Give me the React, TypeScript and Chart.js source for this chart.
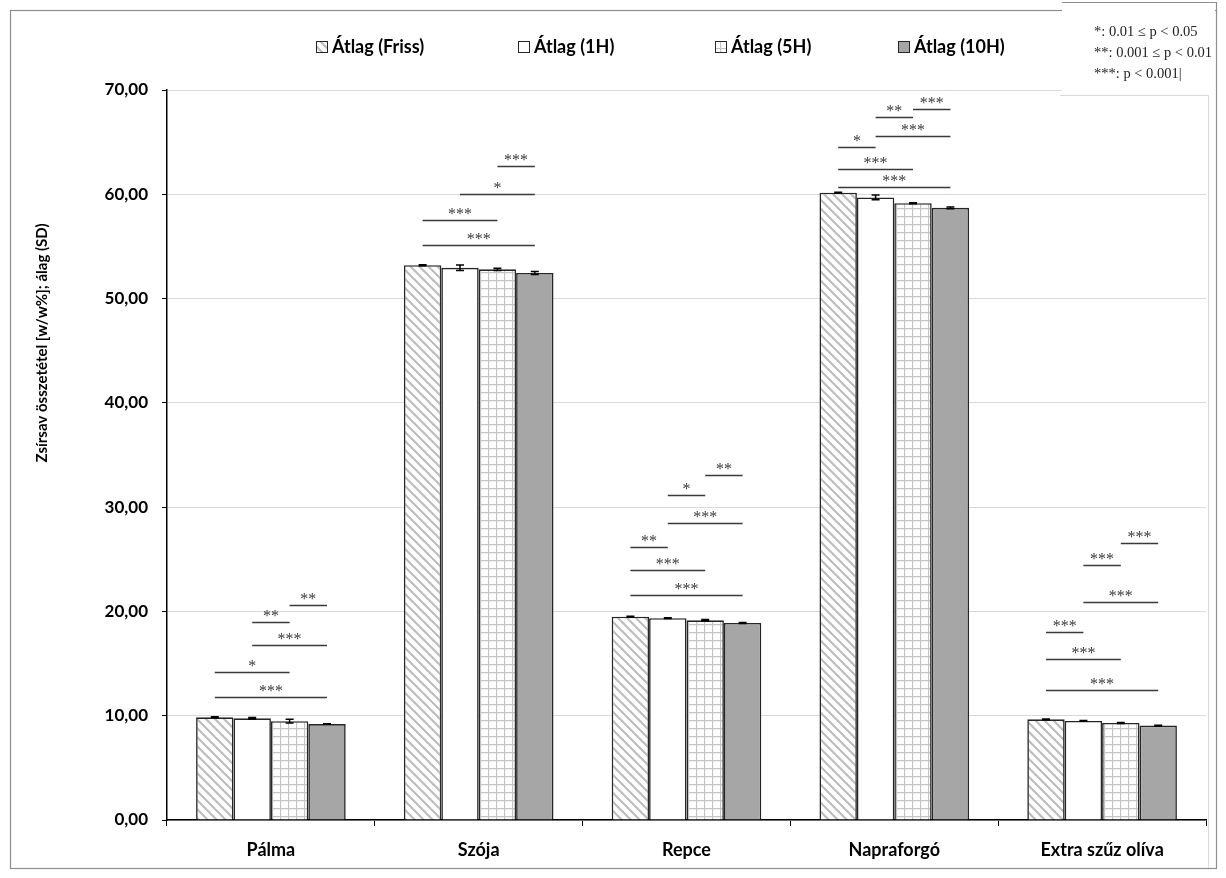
import React, { useEffect, useRef } from "react";
import { Chart, registerables } from "chart.js";

Chart.register(...registerables);

// ---------- data ----------
const categories = ["Pálma", "Szója", "Repce", "Napraforgó", "Extra szűz olíva"];
const seriesNames = ["Átlag (Friss)", "Átlag (1H)", "Átlag (5H)", "Átlag (10H)"];

const meanFriss = [9.85, 53.2, 19.5, 60.15, 9.65];
const mean1H = [9.75, 52.95, 19.35, 59.7, 9.5];
const mean5H = [9.47, 52.8, 19.15, 59.15, 9.3];
const mean10H = [9.2, 52.45, 18.9, 58.7, 9.05];

const sdFriss = [0.04, 0.05, 0.04, 0.05, 0.03];
const sd1H = [0.07, 0.27, 0.04, 0.22, 0.03];
const sd5H = [0.18, 0.1, 0.07, 0.05, 0.05];
const sd10H = [0.03, 0.15, 0.05, 0.08, 0.03];

const yTickValues = [0, 10, 20, 30, 40, 50, 60, 70];

// significance brackets: [category index, from series, to series, y value, label]
const sigPalma: [number, number, number, number, string][] = [
  [0, 0, 3, 11.75, "***"],
  [0, 0, 2, 14.15, "*"],
  [0, 1, 3, 16.8, "***"],
  [0, 1, 2, 18.95, "**"],
  [0, 2, 3, 20.6, "**"],
];
const sigSzoja: [number, number, number, number, string][] = [
  [1, 0, 3, 55.1, "***"],
  [1, 0, 2, 57.5, "***"],
  [1, 1, 3, 60.05, "*"],
  [1, 2, 3, 62.75, "***"],
];
const sigRepce: [number, number, number, number, string][] = [
  [2, 0, 3, 21.6, "***"],
  [2, 0, 2, 24.0, "***"],
  [2, 0, 1, 26.2, "**"],
  [2, 1, 3, 28.5, "***"],
  [2, 1, 2, 31.2, "*"],
  [2, 2, 3, 33.1, "**"],
];
const sigNapraforgo: [number, number, number, number, string][] = [
  [3, 0, 3, 60.7, "***"],
  [3, 0, 2, 62.4, "***"],
  [3, 0, 1, 64.55, "*"],
  [3, 1, 3, 65.6, "***"],
  [3, 1, 2, 67.4, "**"],
  [3, 2, 3, 68.2, "***"],
];
const sigOliva: [number, number, number, number, string][] = [
  [4, 0, 3, 12.45, "***"],
  [4, 0, 2, 15.4, "***"],
  [4, 0, 1, 18.05, "***"],
  [4, 1, 3, 20.9, "***"],
  [4, 1, 2, 24.5, "***"],
  [4, 2, 3, 26.55, "***"],
];

const pLegendLines = ["*: 0.01 ≤ p < 0.05", "**: 0.001 ≤ p < 0.01", "***: p < 0.001|"];
const yAxisTitle = "Zsírsav összetétel [w/w%]; álag (SD)";

const means = [meanFriss, mean1H, mean5H, mean10H];
const sds = [sdFriss, sd1H, sd5H, sd10H];
const sigAll = [...sigPalma, ...sigSzoja, ...sigRepce, ...sigNapraforgo, ...sigOliva];

const fmt = (v: number) => v.toFixed(2).replace(".", ",");

const SANS = "Lato, 'Noto Sans', sans-serif";
const SERIF = "'Liberation Serif', 'DejaVu Serif', serif";

function makePatterns(): (string | CanvasPattern)[] {
  const hatch = document.createElement("canvas");
  hatch.width = 9;
  hatch.height = 9;
  const h = hatch.getContext("2d")!;
  h.fillStyle = "#ffffff";
  h.fillRect(0, 0, 9, 9);
  h.strokeStyle = "#bdbdbd";
  h.lineWidth = 2.2;
  for (const x0 of [-9, 0, 9]) {
    h.beginPath();
    h.moveTo(x0 - 1, -1);
    h.lineTo(x0 + 10, 10);
    h.stroke();
  }
  const grid = document.createElement("canvas");
  grid.width = 8;
  grid.height = 8;
  const g = grid.getContext("2d")!;
  g.fillStyle = "#ffffff";
  g.fillRect(0, 0, 8, 8);
  g.strokeStyle = "#c4c4c4";
  g.lineWidth = 1.3;
  g.beginPath();
  g.moveTo(0.5, 0);
  g.lineTo(0.5, 8);
  g.moveTo(0, 0.5);
  g.lineTo(8, 0.5);
  g.stroke();
  const ctx = document.createElement("canvas").getContext("2d")!;
  return [
    ctx.createPattern(hatch, "repeat")!,
    "#ffffff",
    ctx.createPattern(grid, "repeat")!,
    "#a6a6a6",
  ];
}

export default function App() {
  const ref = useRef<HTMLCanvasElement | null>(null);

  useEffect(() => {
    const canvas = ref.current!;
    const fills = makePatterns();

    const framePlugin = {
      id: "frame",
      beforeDraw(chart: any) {
        const c = chart.ctx;
        c.save();
        c.fillStyle = "#ffffff";
        c.fillRect(0, 0, chart.width, chart.height);
        c.strokeStyle = "#8f8f8f";
        c.lineWidth = 1.2;
        c.strokeRect(10.5, 10.5, 1206, 858);
        c.restore();
      },
      afterDraw(chart: any) {
        const c = chart.ctx;
        c.save();
        // y-axis title
        c.translate(42, 343);
        c.rotate(-Math.PI / 2);
        c.fillStyle = "#000";
        c.font = `bold 15px ${SANS}`;
        c.textAlign = "center";
        c.textBaseline = "middle";
        c.fillText(yAxisTitle, 0, 0);
        c.restore();

        // legend
        c.save();
        const lx = [316, 518, 715, 898];
        seriesNames.forEach((name, i) => {
          c.fillStyle = fills[i] as any;
          c.fillRect(lx[i], 41, 12, 12);
          c.strokeStyle = "#262626";
          c.lineWidth = 1;
          c.strokeRect(lx[i] + 0.5, 41.5, 11, 11);
          c.fillStyle = "#000";
          c.font = `bold 18px ${SANS}`;
          c.textAlign = "left";
          c.textBaseline = "middle";
          c.fillText(name, lx[i] + 16, 47);
        });
        c.restore();

        // p-value text box
        c.save();
        c.strokeStyle = "#8f8f8f";
        c.lineWidth = 1.2;
        c.beginPath();
        c.moveTo(1062, 2.5);
        c.lineTo(1216.5, 2.5);
        c.lineTo(1216.5, 12);
        c.stroke();
        c.fillStyle = "#ffffff";
        c.fillRect(1062, 8, 153, 86);
        c.strokeStyle = "#d9d9d9";
        c.lineWidth = 1;
        c.beginPath();
        c.moveTo(1060, 95.5);
        c.lineTo(1208.5, 95.5);
        c.lineTo(1208.5, 868);
        c.stroke();
        c.fillStyle = "#222";
        c.font = `14.5px ${SERIF}`;
        c.textAlign = "left";
        c.textBaseline = "middle";
        pLegendLines.forEach((t, i) => c.fillText(t, 1094, 32 + i * 21));
        c.restore();
      },
    };

    const errorPlugin = {
      id: "errbars",
      afterDatasetsDraw(chart: any) {
        const c = chart.ctx;
        const ys = chart.scales.y;
        c.save();
        c.strokeStyle = "#000";
        c.lineWidth = 1.5;
        means.forEach((arr, i) => {
          const meta = chart.getDatasetMeta(i);
          arr.forEach((v, j) => {
            const x = meta.data[j].x;
            const yTop = ys.getPixelForValue(v + sds[i][j]);
            const yBot = ys.getPixelForValue(v - sds[i][j]);
            c.beginPath();
            c.moveTo(x, yTop);
            c.lineTo(x, yBot);
            c.moveTo(x - 4, yTop);
            c.lineTo(x + 4, yTop);
            c.moveTo(x - 4, yBot);
            c.lineTo(x + 4, yBot);
            c.stroke();
          });
        });
        c.restore();
      },
    };

    const sigPlugin = {
      id: "sig",
      afterDatasetsDraw(chart: any) {
        const c = chart.ctx;
        const ys = chart.scales.y;
        c.save();
        sigAll.forEach(([cat, a, b, val, label]) => {
          const x1 = chart.getDatasetMeta(a).data[cat].x;
          const x2 = chart.getDatasetMeta(b).data[cat].x;
          const y = Math.round(ys.getPixelForValue(val)) + 0.5;
          c.strokeStyle = "#3a3a3a";
          c.lineWidth = 1.6;
          c.beginPath();
          c.moveTo(x1, y);
          c.lineTo(x2, y);
          c.stroke();
          c.fillStyle = "#3a3a3a";
          c.font = `16px ${SERIF}`;
          c.textAlign = "center";
          c.textBaseline = "alphabetic";
          c.fillText(label, (x1 + x2) / 2, y - 2);
        });
        c.restore();
      },
    };

    const chart = new Chart(canvas, {
      type: "bar",
      data: {
        labels: categories,
        datasets: means.map((arr, i) => ({
          label: seriesNames[i],
          data: arr,
          backgroundColor: fills[i] as any,
          borderColor: "#262626",
          borderWidth: 1.6,
          categoryPercentage: 0.72,
          barPercentage: 1.0,
        })),
      },
      options: {
        responsive: false,
        animation: false,
        layout: { padding: { top: 90, right: 20, left: 0, bottom: 0 } },
        plugins: {
          legend: { display: false },
          tooltip: { enabled: false },
          title: { display: false },
        },
        scales: {
          x: {
            grid: {
              display: true,
              drawOnChartArea: false,
              drawTicks: true,
              tickLength: 6,
              tickColor: "#000",
              offset: true,
            },
            border: { display: true, color: "#000", width: 1.5 },
            ticks: {
              color: "#000",
              font: { family: SANS, weight: "bold", size: 18 },
              padding: 13,
              maxRotation: 0,
              autoSkip: false,
            },
            afterFit: (s: any) => {
              s.height = 58;
            },
          },
          y: {
            min: 0,
            max: 70,
            afterBuildTicks: (s: any) => {
              s.ticks = yTickValues.map((v) => ({ value: v }));
            },
            ticks: {
              color: "#000",
              font: { family: SANS, weight: "bold", size: 17 },
              padding: 14,
              callback: (v: any) => fmt(Number(v)),
            },
            grid: {
              color: "#d9d9d9",
              lineWidth: 1,
              tickColor: "#000",
              tickLength: 5,
              drawTicks: true,
            },
            border: { display: true, color: "#000", width: 1.5 },
            afterFit: (s: any) => {
              s.width = 167;
            },
          },
        },
      } as any,
      plugins: [framePlugin, errorPlugin, sigPlugin],
    });

    return () => chart.destroy();
  }, []);

  return (
    <div style={{ position: "absolute", left: 0, top: 0, width: 1226, height: 878 }}>
      <canvas ref={ref} width={1226} height={878} style={{ display: "block" }} />
    </div>
  );
}
